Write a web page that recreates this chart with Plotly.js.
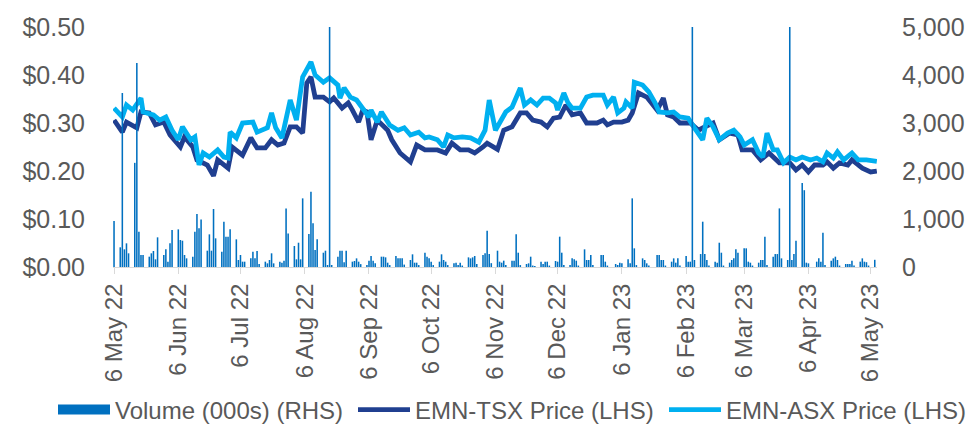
<!DOCTYPE html>
<html>
<head>
<meta charset="utf-8">
<script src="https://cdn.plot.ly/plotly-3.0.1.min.js"></script>
<style>html,body{margin:0;padding:0;background:#fff;}#chart{width:966px;height:430px;}</style>
</head>
<body>
<div id="chart"></div>
<script>
// ---------------- DATA ----------------
const tickDates = ['2022-05-06','2022-06-06','2022-07-06','2022-08-06','2022-09-06','2022-10-06','2022-11-06','2022-12-06','2023-01-06','2023-02-06','2023-03-06','2023-04-06','2023-05-06'];
const tickLabels = ['6 May 22','6 Jun 22','6 Jul 22','6 Aug 22','6 Sep 22','6 Oct 22','6 Nov 22','6 Dec 22','6 Jan 23','6 Feb 23','6 Mar 23','6 Apr 23','6 May 23'];

const volDates = [
'2022-05-06',
'2022-05-09','2022-05-10','2022-05-11','2022-05-12','2022-05-13',
'2022-05-16','2022-05-17','2022-05-18','2022-05-19','2022-05-20',
'2022-05-23','2022-05-24','2022-05-25','2022-05-26','2022-05-27',
'2022-05-30','2022-05-31','2022-06-01','2022-06-02','2022-06-03',
'2022-06-06','2022-06-07','2022-06-08','2022-06-09','2022-06-10',
'2022-06-13','2022-06-14','2022-06-15','2022-06-16','2022-06-17',
'2022-06-20','2022-06-21','2022-06-22','2022-06-23','2022-06-24',
'2022-06-27','2022-06-28','2022-06-29','2022-06-30','2022-07-01',
'2022-07-04','2022-07-05','2022-07-06','2022-07-07','2022-07-08',
'2022-07-11','2022-07-12','2022-07-13','2022-07-14','2022-07-15',
'2022-07-18','2022-07-19','2022-07-20','2022-07-21','2022-07-22',
'2022-07-25','2022-07-26','2022-07-27','2022-07-28','2022-07-29',
'2022-08-01','2022-08-02','2022-08-03','2022-08-04','2022-08-05',
'2022-08-08','2022-08-09','2022-08-10','2022-08-11','2022-08-12',
'2022-08-15','2022-08-16','2022-08-17','2022-08-18','2022-08-19',
'2022-08-22','2022-08-23','2022-08-24','2022-08-25','2022-08-26',
'2022-08-29','2022-08-30','2022-08-31','2022-09-01','2022-09-02',
'2022-09-05','2022-09-06','2022-09-07','2022-09-08','2022-09-09',
'2022-09-12','2022-09-13','2022-09-14','2022-09-15','2022-09-16',
'2022-09-19','2022-09-20','2022-09-21','2022-09-22','2022-09-23',
'2022-09-26','2022-09-27','2022-09-28','2022-09-29','2022-09-30',
'2022-10-03','2022-10-04','2022-10-05','2022-10-06','2022-10-07',
'2022-10-10','2022-10-11','2022-10-12','2022-10-13','2022-10-14',
'2022-10-17','2022-10-18','2022-10-19','2022-10-20','2022-10-21',
'2022-10-24','2022-10-25','2022-10-26','2022-10-27','2022-10-28',
'2022-10-31','2022-11-01','2022-11-02','2022-11-03','2022-11-04',
'2022-11-07','2022-11-08','2022-11-09','2022-11-10','2022-11-11',
'2022-11-14','2022-11-15','2022-11-16','2022-11-17','2022-11-18',
'2022-11-21','2022-11-22','2022-11-23','2022-11-24','2022-11-25',
'2022-11-28','2022-11-29','2022-11-30','2022-12-01','2022-12-02',
'2022-12-05','2022-12-06','2022-12-07','2022-12-08','2022-12-09',
'2022-12-12','2022-12-13','2022-12-14','2022-12-15','2022-12-16',
'2022-12-19','2022-12-20','2022-12-21','2022-12-22','2022-12-23',
'2022-12-27','2022-12-28','2022-12-29','2022-12-30',
'2023-01-03','2023-01-04','2023-01-05','2023-01-06',
'2023-01-09','2023-01-10','2023-01-11','2023-01-12','2023-01-13',
'2023-01-16','2023-01-17','2023-01-18','2023-01-19',
'2023-01-23','2023-01-24','2023-01-25','2023-01-26','2023-01-27',
'2023-01-30','2023-01-31','2023-02-01','2023-02-02','2023-02-03',
'2023-02-06','2023-02-07','2023-02-08','2023-02-09','2023-02-10',
'2023-02-13','2023-02-14','2023-02-15','2023-02-16','2023-02-17',
'2023-02-20','2023-02-21','2023-02-22','2023-02-23','2023-02-24',
'2023-02-27','2023-02-28','2023-03-01','2023-03-02','2023-03-03',
'2023-03-06','2023-03-07','2023-03-08','2023-03-09','2023-03-10',
'2023-03-13','2023-03-14','2023-03-15','2023-03-16','2023-03-17',
'2023-03-20','2023-03-21','2023-03-22','2023-03-23','2023-03-24',
'2023-03-27','2023-03-28','2023-03-29','2023-03-30','2023-03-31',
'2023-04-03','2023-04-04','2023-04-05','2023-04-06',
'2023-04-10','2023-04-11','2023-04-12','2023-04-13','2023-04-14',
'2023-04-17','2023-04-18','2023-04-19','2023-04-20','2023-04-21',
'2023-04-24','2023-04-25','2023-04-26','2023-04-27','2023-04-28',
'2023-05-01','2023-05-02','2023-05-03','2023-05-04','2023-05-05',
'2023-05-08'
];
const volume = [
958,
410,3625,368,493,285,
2170,4250,736,250,250,
215,285,333,160,618,
250,368,111,493,770,
784,562,548,250,180,
215,736,1103,805,992,
340,680,340,1208,597,
320,944,632,632,784,
576,146,250,111,111,
180,320,180,333,60,
111,76,146,285,76,
111,90,132,1221,700,
437,160,506,160,1430,
687,1570,909,354,576,
298,340,42,5600,42,
215,340,340,100,340,
111,125,180,111,60,
40,132,229,132,76,
215,215,201,90,40,
229,180,180,180,50,
146,264,90,90,40,
298,215,180,111,40,
111,264,146,111,40,
76,90,42,90,30,
201,180,201,229,60,
250,285,756,270,80,
340,111,90,132,40,
132,132,680,298,40,
62,76,215,30,20,
111,62,111,111,30,
125,111,632,298,40,
42,180,160,132,30,
368,146,146,250,40,
250,250,111,30,
62,42,90,76,
160,76,1430,389,40,
180,146,76,30,
250,250,146,146,30,
111,180,90,180,30,
229,111,111,5600,146,
270,944,270,146,30,
111,90,506,298,30,
90,146,180,368,298,
389,389,111,90,30,
90,146,146,632,40,
215,270,270,1221,180,
146,5600,146,270,548,
1750,1600,90,76,
111,180,111,715,40,
132,180,215,146,30,
62,62,62,132,30,
111,180,111,100,30,
150
];

const tsxDates = [
'2022-05-06','2022-05-10','2022-05-12','2022-05-17','2022-05-19','2022-05-23','2022-05-26','2022-05-30',
'2022-06-02','2022-06-07','2022-06-09','2022-06-13','2022-06-15','2022-06-20','2022-06-23','2022-06-25','2022-06-30',
'2022-07-02','2022-07-07','2022-07-11','2022-07-14','2022-07-18','2022-07-21','2022-07-24','2022-07-27','2022-07-30',
'2022-08-02','2022-08-05','2022-08-07','2022-08-09','2022-08-11','2022-08-15','2022-08-18','2022-08-20','2022-08-24','2022-08-27','2022-08-29',
'2022-09-01','2022-09-03','2022-09-05','2022-09-07','2022-09-10','2022-09-15','2022-09-17','2022-09-21','2022-09-26','2022-09-29',
'2022-10-03','2022-10-09','2022-10-13','2022-10-16','2022-10-20','2022-10-24','2022-10-27','2022-10-31',
'2022-11-02','2022-11-07','2022-11-10','2022-11-14','2022-11-18','2022-11-21','2022-11-24','2022-11-28',
'2022-12-01','2022-12-04','2022-12-07','2022-12-10','2022-12-13','2022-12-17','2022-12-20','2022-12-25','2022-12-28','2022-12-30',
'2023-01-02','2023-01-06','2023-01-09','2023-01-11','2023-01-14','2023-01-18','2023-01-21','2023-01-23','2023-01-26','2023-01-28','2023-01-31',
'2023-02-03','2023-02-08','2023-02-12','2023-02-14','2023-02-19','2023-02-22','2023-02-27',
'2023-03-03','2023-03-05','2023-03-10','2023-03-14','2023-03-18','2023-03-23','2023-03-28','2023-03-31',
'2023-04-03','2023-04-06','2023-04-09','2023-04-13','2023-04-15','2023-04-18','2023-04-21','2023-04-25','2023-04-27',
'2023-05-02','2023-05-06','2023-05-09'
];
const tsxPrice = [
0.306,0.281,0.302,0.290,0.323,0.321,0.296,0.302,
0.275,0.250,0.271,0.250,0.223,0.2125,0.190,0.223,0.206,
0.250,0.233,0.269,0.248,0.248,0.265,0.254,0.258,0.292,
0.292,0.279,0.383,0.396,0.354,0.354,0.344,0.352,0.331,0.342,0.327,
0.302,0.327,0.323,0.265,0.306,0.285,0.265,0.2375,0.219,0.254,
0.244,0.244,0.2375,0.258,0.244,0.244,0.2375,0.250,
0.258,0.245,0.285,0.292,0.321,0.321,0.306,0.302,
0.292,0.310,0.3125,0.3375,0.317,0.321,0.300,0.300,0.306,0.296,
0.302,0.302,0.306,0.321,0.3625,0.354,0.3375,0.327,0.352,0.317,0.3125,
0.300,0.300,0.285,0.290,0.300,0.265,0.279,
0.275,0.244,0.244,0.223,0.2375,0.217,0.217,0.202,
0.2125,0.198,0.2125,0.2125,0.219,0.206,0.217,0.2125,0.223,
0.206,0.198,0.200
];

const asxDates = [
'2022-05-06','2022-05-10','2022-05-12','2022-05-15','2022-05-19','2022-05-20','2022-05-25','2022-05-28','2022-05-31',
'2022-06-03','2022-06-06','2022-06-08','2022-06-12','2022-06-14','2022-06-16','2022-06-18','2022-06-21','2022-06-25','2022-06-28','2022-06-30',
'2022-07-01','2022-07-04','2022-07-07','2022-07-12','2022-07-14','2022-07-19','2022-07-21','2022-07-23','2022-07-26','2022-07-30',
'2022-08-02','2022-08-05','2022-08-09','2022-08-11','2022-08-15','2022-08-18','2022-08-22','2022-08-23','2022-08-25','2022-08-28','2022-08-31',
'2022-09-03','2022-09-06','2022-09-07','2022-09-10','2022-09-12','2022-09-16','2022-09-20','2022-09-23','2022-09-26','2022-09-30',
'2022-10-03','2022-10-05','2022-10-09','2022-10-12','2022-10-14','2022-10-17','2022-10-21','2022-10-25','2022-10-29',
'2022-11-01','2022-11-03','2022-11-06','2022-11-11','2022-11-14','2022-11-18','2022-11-20','2022-11-23','2022-11-26','2022-11-29',
'2022-12-02','2022-12-05','2022-12-06','2022-12-09','2022-12-11','2022-12-13','2022-12-17','2022-12-20','2022-12-23','2022-12-28','2022-12-30',
'2023-01-02','2023-01-04','2023-01-07','2023-01-08','2023-01-11','2023-01-12','2023-01-16','2023-01-19','2023-01-22','2023-01-24','2023-01-28','2023-01-31',
'2023-02-03','2023-02-07','2023-02-10','2023-02-14','2023-02-16','2023-02-19','2023-02-22','2023-02-26',
'2023-03-01','2023-03-04','2023-03-06','2023-03-10','2023-03-13','2023-03-15','2023-03-17','2023-03-20','2023-03-22','2023-03-25','2023-03-28','2023-03-31',
'2023-04-03','2023-04-07','2023-04-10','2023-04-13','2023-04-15','2023-04-18','2023-04-20','2023-04-23','2023-04-27','2023-04-30',
'2023-05-04','2023-05-09'
];
const asxPrice = [
0.331,0.3125,0.3375,0.327,0.352,0.323,0.317,0.306,0.3125,
0.285,0.265,0.292,0.265,0.271,0.2125,0.2375,0.229,0.244,0.229,0.227,
0.281,0.269,0.300,0.302,0.281,0.290,0.321,0.290,0.269,0.348,
0.306,0.396,0.427,0.400,0.385,0.394,0.379,0.352,0.373,0.354,0.348,
0.331,0.3125,0.327,0.302,0.323,0.296,0.285,0.290,0.275,0.281,
0.269,0.271,0.265,0.250,0.275,0.269,0.271,0.269,0.260,
0.285,0.348,0.285,0.323,0.333,0.373,0.3375,0.348,0.3375,0.352,
0.352,0.342,0.327,0.3625,0.342,0.331,0.331,0.354,0.358,0.358,0.3375,
0.354,0.321,0.331,0.344,0.331,0.385,0.379,0.365,0.342,0.323,0.321,0.323,
0.3125,0.310,0.290,0.265,0.310,0.292,0.265,0.279,
0.285,0.271,0.254,0.265,0.2375,0.229,0.279,0.244,0.244,0.217,0.229,0.223,
0.229,0.223,0.227,0.219,0.2375,0.227,0.240,0.223,0.2375,0.223,
0.223,0.220
];

const priceTicks = [0, 0.1, 0.2, 0.3, 0.4, 0.5];
const volTicks = [0, 1000, 2000, 3000, 4000, 5000];

// ---------------- CHART ----------------
const FONT = 'Liberation Sans, Arial, sans-serif';
const TXT = '#595959';
const VOL_C = '#0070C0', TSX_C = '#203F90', ASX_C = '#00B0F0';

const traces = [
  {
    type: 'bar', name: 'Volume (000s) (RHS)', x: volDates, y: volume, yaxis: 'y2',
    marker: {color: VOL_C, line: {width: 0}}, showlegend: false, legendgroup: 'vol'
  },
  // legend key for the volume bars (wide block as in the original legend)
  {
    type: 'scatter', mode: 'lines', name: 'Volume (000s) (RHS)', x: [null], y: [null], yaxis: 'y2',
    line: {color: VOL_C, width: 13}, legendgroup: 'vol', hoverinfo: 'skip', legend: 'legend'
  },
  {
    type: 'scatter', mode: 'lines', name: 'EMN-TSX Price (LHS)', x: tsxDates, y: tsxPrice,
    line: {color: TSX_C, width: 4.8}, legend: 'legend2'
  },
  {
    type: 'scatter', mode: 'lines', name: 'EMN-ASX Price (LHS)', x: asxDates, y: asxPrice,
    line: {color: ASX_C, width: 4.8}, legend: 'legend3'
  }
];

function legendAt(px) {
  return {
    orientation: 'h', xref: 'container', yref: 'container',
    x: px / 966, xanchor: 'left', y: 20 / 430, yanchor: 'middle',
    font: {family: FONT, size: 24, color: TXT},
    itemwidth: 52, bgcolor: 'rgba(0,0,0,0)', borderwidth: 0
  };
}

const layout = {
  width: 966, height: 430,
  margin: {l: 113, r: 89, t: 27, b: 163, pad: 0},
  paper_bgcolor: '#ffffff', plot_bgcolor: '#ffffff',
  font: {family: FONT, size: 24, color: TXT},
  bargap: 0.25,
  showlegend: true,
  legend: legendAt(53),
  legend2: legendAt(353),
  legend3: legendAt(664),
  xaxis: {
    type: 'date', range: ['2022-05-05 12:00', '2023-05-09 02:00'],
    tickmode: 'array', tickvals: tickDates, ticktext: tickLabels, tickangle: -90,
    ticks: 'outside', ticklen: 6, tickcolor: '#D9D9D9', tickwidth: 1,
    showline: true, linecolor: '#D9D9D9', linewidth: 1,
    showgrid: false, zeroline: false,
    tickfont: {family: FONT, size: 24, color: TXT}
  },
  yaxis: {
    range: [0, 0.5], tickmode: 'array', tickvals: priceTicks, tickformat: '$.2f',
    showgrid: false, zeroline: false, showline: false, ticks: '',
    ticklabelstandoff: 27,
    tickfont: {family: FONT, size: 25, color: TXT}
  },
  yaxis2: {
    range: [0, 5000], overlaying: 'y', side: 'right', tickmode: 'array', tickvals: volTicks, tickformat: ',d',
    showgrid: false, zeroline: false, showline: false, ticks: '',
    ticklabelstandoff: 24,
    tickfont: {family: FONT, size: 25, color: TXT}
  }
};

Plotly.newPlot('chart', traces, layout, {staticPlot: true, displayModeBar: false});
</script>
</body>
</html>
